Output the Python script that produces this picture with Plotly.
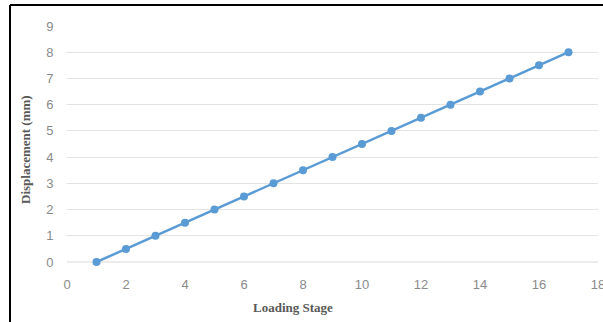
import plotly.graph_objects as go

loading_stage = list(range(1, 18))
displacement = [0, 0.5, 1, 1.5, 2, 2.5, 3, 3.5, 4, 4.5, 5, 5.5, 6, 6.5, 7, 7.5, 8]
x_ticks = [0, 2, 4, 6, 8, 10, 12, 14, 16, 18]
y_ticks = [0, 1, 2, 3, 4, 5, 6, 7, 8, 9]

W, H = 603, 322
L, R, T, B = 67, 5, 26, 60
pw, ph = W - L - R, H - T - B

def px(xp):
    return (xp - L) / pw

def py(yp):
    return (H - B - yp) / ph

fig = go.Figure()
fig.add_trace(go.Scatter(
    x=loading_stage, y=displacement, mode="lines+markers",
    line=dict(color="#5B9BD5", width=2.5),
    marker=dict(color="#5B9BD5", size=8),
    showlegend=False, cliponaxis=False,
))

tick_font = dict(family="Liberation Sans, Arial, sans-serif", size=13, color="#8a8a8a")
title_font = dict(family="Liberation Serif, Times New Roman, serif", size=13, color="#595959")

fig.update_layout(
    width=W, height=H,
    margin=dict(l=L, r=R, t=T, b=B, autoexpand=False),
    paper_bgcolor="white", plot_bgcolor="white",
    xaxis=dict(range=[0, 18], tickvals=x_ticks, showgrid=False, zeroline=False,
               showline=False, tickfont=tick_font, ticks="outside", ticklen=10,
               tickcolor="rgba(0,0,0,0)", automargin=False, ticklabeloverflow="allow"),
    yaxis=dict(range=[0, 9], tickvals=y_ticks, showgrid=True, gridcolor="#e3e3e3",
               gridwidth=1, zeroline=False, showline=False, tickfont=tick_font,
               ticks="outside", ticklen=10, tickcolor="rgba(0,0,0,0)", automargin=False),
    annotations=[
        dict(text="<b>Loading Stage</b>", xref="paper", yref="paper",
             x=px(293), y=py(307), showarrow=False, font=title_font,
             xanchor="center", yanchor="middle"),
        dict(text="<b>Displacement (mm)</b>", xref="paper", yref="paper",
             x=px(25), y=py(150), showarrow=False, font=title_font, textangle=-90,
             xanchor="center", yanchor="middle"),
    ],
    shapes=[
        dict(type="line", xref="paper", yref="paper", x0=px(10), x1=px(10),
             y0=py(330), y1=py(5), line=dict(color="black", width=2)),
        dict(type="line", xref="paper", yref="paper", x0=px(10), x1=px(610),
             y0=py(5), y1=py(5), line=dict(color="black", width=2)),
        dict(type="line", xref="paper", yref="paper", x0=0, x1=1,
             y0=0, y1=0, line=dict(color="#d9d9d9", width=1), layer="below"),
    ],
)

fig.write_html("out.html", config={"displayModeBar": False},
               post_script="document.body.style.margin='0';document.body.style.overflow='hidden';")
